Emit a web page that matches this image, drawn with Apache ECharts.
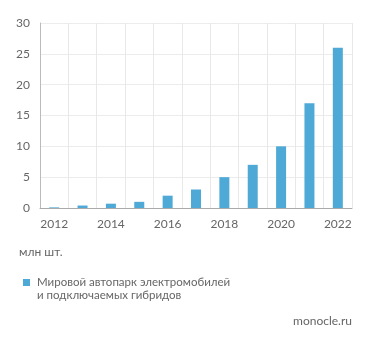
<!DOCTYPE html>
<html><head><meta charset="utf-8">
<script src="https://cdn.jsdelivr.net/npm/echarts@6/dist/echarts.min.js"></script>
<style>html,body{margin:0;padding:0;background:#fff}#c{width:371px;height:344px}</style>
</head><body><div id="c"></div>
<script>
const categories = ['2012','2013','2014','2015','2016','2017','2018','2019','2020','2021','2022'];
const values = [0.1, 0.4, 0.7, 1.0, 2, 3, 5, 7, 10, 17, 26];
const seriesName = 'Мировой автопарк электромобилей\nи подключаемых гибридов';
const unitLabel = 'млн шт.';
const sourceLabel = 'monocle.ru';
const font = 'Lato';
const textColor = '#666';
const chart = echarts.init(document.getElementById('c'), null, {renderer:'canvas'});
chart.setOption({
  animation:false,
  textStyle:{fontFamily:font},
  grid:{left:40,right:19,top:23,bottom:136},
  xAxis:{type:'category',data:categories,
    axisLine:{lineStyle:{color:'#aaa'}},axisTick:{show:false},
    axisLabel:{interval:1,color:textColor,fontSize:12,fontFamily:font,margin:10},
    splitLine:{show:true,interval:0,lineStyle:{color:'#e8e8e8'}}},
  yAxis:{type:'value',min:0,max:30,interval:5,
    axisLine:{show:true,lineStyle:{color:'#bbb'}},axisTick:{show:false},
    axisLabel:{color:textColor,fontSize:12,fontFamily:font,margin:10},
    splitLine:{lineStyle:{color:'#ececec'}}},
  legend:{left:18,top:271,icon:'path://M0,0H7V7H0Z M0,19.95H0.05V20H0Z',itemWidth:7,itemHeight:20,itemGap:0,
    textStyle:{color:textColor,fontSize:11.5,fontFamily:font,lineHeight:13,padding:[0,0,0,2]},
    data:[seriesName]},
  graphic:[
    {type:'text',left:19,top:246,style:{text:unitLabel,fill:textColor,font:'12px Lato'}},
    {type:'text',right:19,top:315,style:{text:sourceLabel,fill:textColor,font:'12px Lato'}}
  ],
  series:[{type:'bar',name:seriesName,data:values,barWidth:10,itemStyle:{color:'#4fa9d6'}}]
});
</script></body></html>
